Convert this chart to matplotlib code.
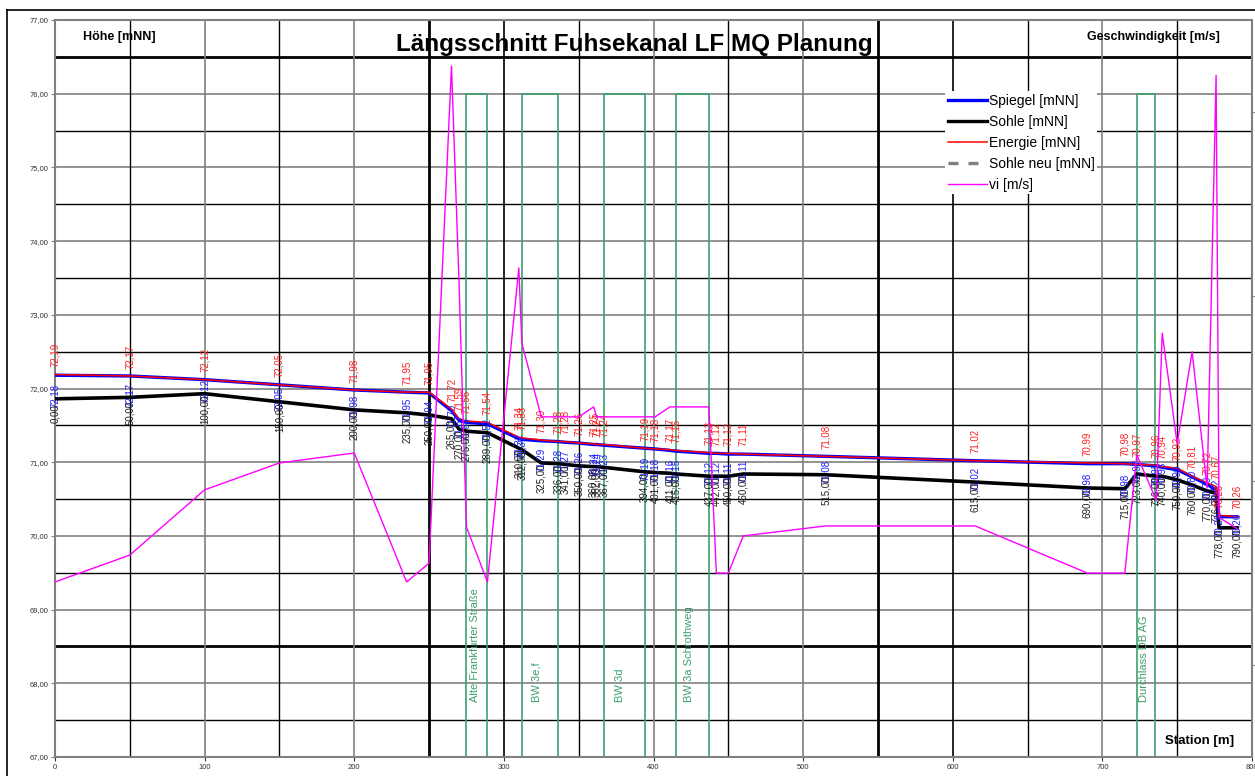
import matplotlib
matplotlib.use("Agg")
import matplotlib.pyplot as plt
from matplotlib.patches import Rectangle
from matplotlib.lines import Line2D

plt.rcParams['font.family'] = ['Liberation Sans', 'DejaVu Sans']

# Stationen [m]
station = [0, 50, 100, 150, 200, 235, 250, 265, 270, 275, 289, 310, 312, 325, 336,
           341, 350, 360, 362, 367, 394, 401, 411, 415, 437, 442, 450, 460, 515, 615,
           690, 715, 723, 736, 740, 750, 760, 770, 776, 778, 790]
# Energielinie [mNN]
energie = [72.19, 72.17, 72.12, 72.05, 71.98, 71.95, 71.95, 71.72, 71.59, 71.56, 71.54,
           71.34, 71.33, 71.30, 71.28, 71.28, 71.26, 71.25, 71.24, 71.24, 71.19, 71.18,
           71.17, 71.16, 71.13, 71.12, 71.12, 71.11, 71.08, 71.02, 70.99, 70.98, 70.97,
           70.96, 70.94, 70.92, 70.81, 70.72, 70.67, 70.28, 70.26]
# Wasserspiegel [mNN]
spiegel = [72.18, 72.17, 72.12, 72.05, 71.98, 71.95, 71.94, 71.70, 71.57, 71.54, 71.52,
           71.32, 71.31, 71.29, 71.28, 71.27, 71.26, 71.24, 71.24, 71.23, 71.19, 71.18,
           71.16, 71.15, 71.12, 71.12, 71.11, 71.11, 71.08, 71.02, 70.98, 70.98, 70.97,
           70.95, 70.93, 70.90, 70.80, 70.70, 70.62, 70.26, 70.26]
# Sohle [mNN]
sohle = [71.86, 71.88, 71.93, 71.82, 71.71, 71.67, 71.64, 71.59, 71.45, 71.42, 71.40,
         71.19, 71.17, 70.99, 70.98, 70.97, 70.95, 70.94, 70.94, 70.93, 70.87, 70.86,
         70.85, 70.84, 70.81, 70.81, 70.81, 70.84, 70.83, 70.73, 70.65, 70.64, 70.84,
         70.81, 70.81, 70.76, 70.69, 70.61, 70.58, 70.11, 70.11]
# Fliessgeschwindigkeit [m/s]
vi = [0.225, 0.298, 0.475, 0.548, 0.575, 0.225, 0.276, 1.625, 1.04, 0.374, 0.225,
      1.077, 0.873, 0.673, 0.673, 0.673, 0.673, 0.70, 0.673, 0.673, 0.673, 0.673,
      0.70, 0.70, 0.70, 0.249, 0.249, 0.35, 0.377, 0.377, 0.249, 0.249, 0.57,
      0.447, 0.90, 0.60, 0.85, 0.48, 1.60, 0.40, 0.37]

# Bauwerke
bw_name = ["Alte Frankfurter Straße", "BW 3e,f", "BW 3d", "BW 3a Schrothweg", "Durchlass DB AG"]
bw_von = [275, 312, 367, 415, 723]
bw_bis = [289, 336, 394, 437, 735]
bw_oben = 76.0

gruen = '#3c9f6e'


def fmt(v):
    return f"{v:.2f}".replace('.', ',')


fig = plt.figure(figsize=(12.55, 7.76), dpi=100)
ax = fig.add_axes([55 / 1255, 1 - 757 / 776, 1197 / 1255, 737 / 776])
ax.set_xlim(0, 800)
ax.set_ylim(67, 77)

# Rahmen um das Diagramm
fig.add_artist(Line2D([7 / 1255, 7 / 1255], [0, 1 - 10 / 776], color='black', lw=1.2))
fig.add_artist(Line2D([7 / 1255, 1], [1 - 10 / 776, 1 - 10 / 776], color='black', lw=1.2))

# Gitternetz
for y in [67.5 + i for i in range(10)]:
    ax.axhline(y, color='black', lw=2.0 if y in (68.5, 76.5) else 1.0, zorder=1)
for y in range(68, 77):
    ax.axhline(y, color='#808080', lw=1.2, zorder=1)
for x in range(50, 800, 100):
    ax.axvline(x, color='black', lw=2.0 if x in (250, 550) else 1.0, zorder=1)
for x in range(100, 800, 100):
    ax.axvline(x, color='#808080' if x in (100, 200, 400, 500, 700) else 'black',
               lw=1.2, zorder=1)

# Bauwerke
for name, l, r in zip(bw_name, bw_von, bw_bis):
    ax.add_patch(Rectangle((l, 67), r - l, bw_oben - 67, fill=False, ec=gruen, lw=1.2, zorder=2))
    ax.text(l + 0.4 * (r - l), 67.75, name, rotation=90, color=gruen, fontsize=8,
            ha='center', va='bottom', zorder=2)

ax.plot(station, sohle, color='black', lw=2.6, zorder=4, label='Sohle [mNN]')
ax.plot(station, spiegel, color='blue', lw=2.4, zorder=5, label='Spiegel [mNN]')
ax.plot(station, energie, color='red', lw=1.1, zorder=6, label='Energie [mNN]')

# Beschriftungen
for s, e, w, h in zip(station, energie, spiegel, sohle):
    ax.annotate(fmt(e), (s, e), xytext=(0, 14), textcoords='offset points', rotation=90,
                ha='center', va='center', fontsize=7, color='#ff2020', zorder=7)
    ax.annotate(fmt(w), (s, h), xytext=(0, 2), textcoords='offset points', rotation=90,
                ha='center', va='center', fontsize=7, color='#2020ff', zorder=7)
    ax.annotate(fmt(s), (s, h), xytext=(0, -11), textcoords='offset points', rotation=90,
                ha='center', va='center', fontsize=7, color='#202020', zorder=7)

ax.set_yticks(range(67, 78))
ax.set_yticklabels([fmt(v) for v in range(67, 78)])
ax.set_xticks(range(0, 801, 100))
ax.tick_params(axis='both', labelsize=5.5, colors='#333333', length=3, width=0.8, pad=2)
ax.tick_params(axis='y', colors='#808080', labelcolor='#333333')
for sp in ax.spines.values():
    sp.set_color('#808080')
    sp.set_linewidth(1.5)

ax.text(43, 76.77, 'Höhe [mNN]', fontsize=9, fontweight='bold', ha='center', va='center')
ax.text(387, 76.67, 'Längsschnitt Fuhsekanal LF MQ Planung', fontsize=17.5,
        fontweight='bold', ha='center', va='center')
ax.text(734, 76.77, 'Geschwindigkeit [m/s]', fontsize=9, fontweight='bold',
        ha='center', va='center')
ax.text(765, 67.22, 'Station [m]', fontsize=9.5, fontweight='bold', ha='center', va='center')

# Geschwindigkeit auf Sekundaerachse
ax2 = ax.twinx()
ax2.set_ylim(-0.25, 1.75)
ax2.set_yticks([0, 0.5, 1.0, 1.5])
ax2.set_yticklabels([])
ax2.tick_params(axis='y', colors='#808080', length=3, width=0.8)
for sp in ax2.spines.values():
    sp.set_visible(False)
ax2.plot(station, vi, color='magenta', lw=1.0, zorder=3, label='vi [m/s]')

handles = [
    Line2D([], [], color='blue', lw=2.4),
    Line2D([], [], color='black', lw=2.4),
    Line2D([], [], color='red', lw=1.1),
    Line2D([], [], color='#808080', lw=2.4, ls=(0, (3, 3))),
    Line2D([], [], color='magenta', lw=1.0),
]
labels = ['Spiegel [mNN]', 'Sohle [mNN]', 'Energie [mNN]', 'Sohle neu [mNN]', 'vi [m/s]']
leg = ax2.legend(handles, labels, loc='upper left', bbox_to_anchor=(945 / 1255, 1 - 91 / 776),
                 bbox_transform=fig.transFigure, frameon=True, framealpha=1, fontsize=10,
                 handlelength=2.8, handletextpad=0.15, labelspacing=0.5, borderpad=0.2,
                 borderaxespad=0)
leg.get_frame().set_edgecolor('none')
leg.set_zorder(20)

fig.savefig('out.png', dpi=100)
